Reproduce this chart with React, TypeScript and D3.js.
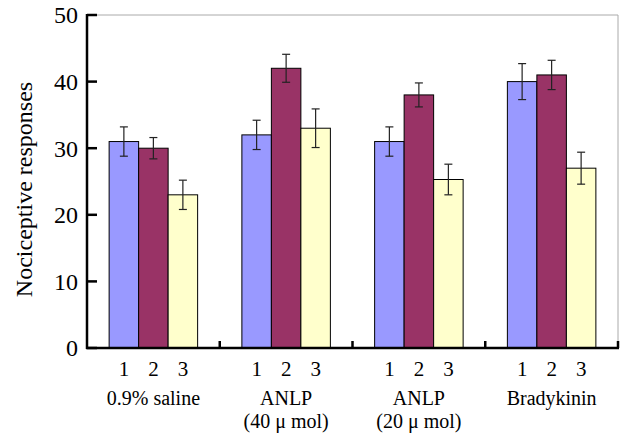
import React from "react";
import * as d3 from "d3";

const groups = ["0.9% saline", "ANLP (40)", "ANLP (20)", "Bradykinin"];
const groupLabels: string[][] = [["0.9% saline"], ["ANLP", "(40 μ mol)"], ["ANLP", "(20 μ mol)"], ["Bradykinin"]];
const seriesNames = ["1", "2", "3"];
const seriesColors = ["#9999FF", "#993366", "#FFFFCC"];
const values1 = [31, 32, 31, 40];
const values2 = [30, 42, 38, 41];
const values3 = [23, 33, 25.3, 27];
const errors1 = [2.2, 2.2, 2.2, 2.7];
const errors2 = [1.6, 2.1, 1.8, 2.2];
const errors3 = [2.2, 2.9, 2.3, 2.4];
const yTicks = [0, 10, 20, 30, 40, 50];

const W = 627, H = 437;
const left = 87, right = 618, top = 15, bottom = 348;
const font = "'Liberation Serif', 'Times New Roman', serif";

export default function App() {
  const x = d3.scaleBand<string>().domain(groups).range([left, right]).padding(0);
  const bw = x.bandwidth();
  const inner = d3.scaleBand<string>().domain(seriesNames).range([bw / 6, bw * 5 / 6]).padding(0);
  const y = d3.scaleLinear().domain([0, 50]).range([bottom, top]);
  const vals = [values1, values2, values3];
  const errs = [errors1, errors2, errors3];
  const capW = 4;

  return (
    <svg width={W} height={H} style={{ position: "absolute", left: 0, top: 0, background: "#fff" }} fontFamily={font}>
      {/* top & right frame */}
      <line x1={left} x2={right} y1={top} y2={top} stroke="#aaa" strokeWidth={1} />
      <line x1={right} x2={right} y1={top} y2={bottom} stroke="#aaa" strokeWidth={1} />
      {/* bars */}
      {groups.map((g, gi) =>
        seriesNames.map((s, si) => {
          const bx = (x(g) as number) + (inner(s) as number);
          const v = vals[si][gi];
          return (
            <rect key={g + s} x={bx} y={y(v)} width={inner.bandwidth()} height={bottom - y(v)}
              fill={seriesColors[si]} stroke="#000" strokeWidth={1} />
          );
        })
      )}
      {/* error bars */}
      {groups.map((g, gi) =>
        seriesNames.map((s, si) => {
          const cx = (x(g) as number) + (inner(s) as number) + inner.bandwidth() / 2;
          const v = vals[si][gi];
          const e = errs[si][gi];
          return (
            <g key={"e" + g + s} stroke="#222" strokeWidth={1.2}>
              <line x1={cx} x2={cx} y1={y(v + e)} y2={y(v - e)} />
              <line x1={cx - capW} x2={cx + capW} y1={y(v + e)} y2={y(v + e)} />
              <line x1={cx - capW} x2={cx + capW} y1={y(v - e)} y2={y(v - e)} />
            </g>
          );
        })
      )}
      {/* y axis */}
      <line x1={left} x2={left} y1={top - 1} y2={bottom + 1} stroke="#000" strokeWidth={2.5} />
      {yTicks.map((t) => (
        <g key={"t" + t}>
          <line x1={left} x2={left + 10} y1={y(t)} y2={y(t)} stroke="#000" strokeWidth={2.5} />
          <text x={78} y={y(t)} dy="0.35em" textAnchor="end" fontSize={24} fill="#000">{t}</text>
        </g>
      ))}
      {/* x axis */}
      <line x1={left - 1} x2={right + 1} y1={bottom} y2={bottom} stroke="#000" strokeWidth={2.5} />
      {groups.map((g) => {
        const xr = (x(g) as number) + bw;
        return <line key={"xt" + g} x1={xr} x2={xr} y1={bottom} y2={bottom - 7} stroke="#000" strokeWidth={2.5} />;
      })}
      {groups.map((g) =>
        seriesNames.map((s) => {
          const cx = (x(g) as number) + (inner(s) as number) + inner.bandwidth() / 2;
          return <text key={"sl" + g + s} x={cx} y={376} textAnchor="middle" fontSize={21} fill="#000">{s}</text>;
        })
      )}
      {groups.map((g, gi) => {
        const cx = (x(g) as number) + bw / 2;
        return groupLabels[gi].map((line, li) => (
          <text key={"gl" + g + li} x={cx} y={405 + li * 23} textAnchor="middle" fontSize={20} fill="#000">{line}</text>
        ));
      })}
      {/* y title */}
      <text transform={`translate(32,${(top + bottom) / 2 + 8}) rotate(-90)`} textAnchor="middle" fontSize={24} fill="#000">Nociceptive responses</text>
    </svg>
  );
}
